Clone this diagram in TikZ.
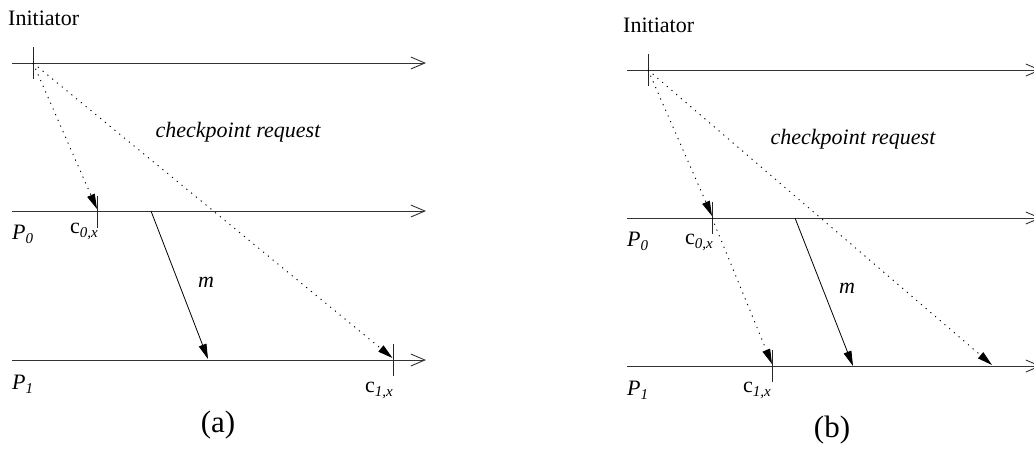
\documentclass[tikz,border=0pt]{standalone}
\usepackage{fontspec}
\setmainfont{Liberation Serif}
\usetikzlibrary{arrows.meta}
\newcommand{\mysub}[1]{\raisebox{-4pt}{\fontsize{15}{15}\selectfont\itshape #1}}
\begin{document}
\begin{tikzpicture}[x=1pt,y=-1pt,
  timeline/.style={line width=0.9pt, draw=black!80, -{Straight Barb[length=14pt,width=12pt,line width=0.9pt]}},
  tickmark/.style={line width=0.9pt, draw=black!85},
  req/.style={line width=0.9pt, dash pattern=on 1.2pt off 5pt, -{Triangle[length=15pt,width=8pt]}},
  msg/.style={line width=0.8pt, -{Triangle[length=15pt,width=8pt]}},
  lbl/.style={font=\fontsize{22}{24}\selectfont, inner sep=0pt, anchor=base west},
  ilbl/.style={font=\fontsize{22}{24}\selectfont\itshape, inner sep=0pt, anchor=base},
  caplbl/.style={font=\fontsize{31}{34}\selectfont, inner sep=0pt, anchor=base}
]
\useasboundingbox (0,0) rectangle (1034,448);
\clip (0,0) rectangle (1034,448);

% ---------------- panel (a) ----------------
\coordinate (aI0) at (12,63);  \coordinate (aI1) at (426,63);
\coordinate (aP00) at (12,211); \coordinate (aP01) at (426,211);
\coordinate (aP10) at (12,360); \coordinate (aP11) at (426,360);
\draw[timeline] (aI0) -- (aI1);
\draw[timeline] (aP00) -- (aP01);
\draw[timeline] (aP10) -- (aP11);

\coordinate (aT) at (33,63);
\coordinate (aC0) at (97,211);
\coordinate (aC1) at (393,360);
\draw[tickmark] (33,47) -- (33,79);
\draw[tickmark] (97,196) -- (97,228);
\draw[tickmark] (393,344) -- (393,376);

\coordinate (aC0e) at (97,209);
\coordinate (aC1e) at (392.5,358);
\draw[req] (aT) -- (aC0e);
\draw[req] (aT) -- (aC1e);
\coordinate (aMs) at (151,211);
\coordinate (aMe) at (208,359);
\draw[msg] (aMs) -- (aMe);

\node[lbl] (aInit) at (8,25) {Initiator};
\node[ilbl] (aReq) at (238,137) {checkpoint request};
\node[ilbl] (aM) at (206,287) {m};
\node[lbl] (aP0) at (12,239) {\itshape P\mysub{0}};
\node[lbl] (aP1) at (12,389) {\itshape P\mysub{1}};
\node[lbl] (ac0) at (70,233) {c\mysub{0,x}};
\node[lbl] (ac1) at (365,392) {c\mysub{1,x}};
\node[caplbl] (aCap) at (218,432) {(a)};

% ---------------- panel (b) ----------------
\coordinate (bI0) at (627,70);  \coordinate (bI1) at (1041,70);
\coordinate (bP00) at (627,218); \coordinate (bP01) at (1041,218);
\coordinate (bP10) at (627,366); \coordinate (bP11) at (1041,366);
\draw[timeline] (bI0) -- (bI1);
\draw[timeline] (bP00) -- (bP01);
\draw[timeline] (bP10) -- (bP11);

\coordinate (bT) at (648,70);
\coordinate (bC0) at (712,218);
\coordinate (bC1) at (772,366);
\draw[tickmark] (648,54) -- (648,86);
\draw[tickmark] (712,202) -- (712,234);
\draw[tickmark] (772,350) -- (772,382);

\coordinate (bC0e) at (712,216);
\coordinate (bC1e) at (772,364);
\coordinate (bRe) at (992,365);
\draw[req] (bT) -- (bC0e);
\draw[req] (bT) -- (bRe);
\draw[req] (bC0) -- (bC1e);
\coordinate (bMs) at (795,218);
\coordinate (bMe) at (853,366);
\draw[msg] (bMs) -- (bMe);

\node[lbl] (bInit) at (623,32) {Initiator};
\node[ilbl] (bReq) at (853,144) {checkpoint request};
\node[ilbl] (bM) at (847,293) {m};
\node[lbl] (bP0) at (627,246) {\itshape P\mysub{0}};
\node[lbl] (bP1) at (627,395) {\itshape P\mysub{1}};
\node[lbl] (bc0) at (685,244) {c\mysub{0,x}};
\node[lbl] (bc1) at (743,392) {c\mysub{1,x}};
\node[caplbl] (bCap) at (832,437) {(b)};
\end{tikzpicture}
\end{document}
